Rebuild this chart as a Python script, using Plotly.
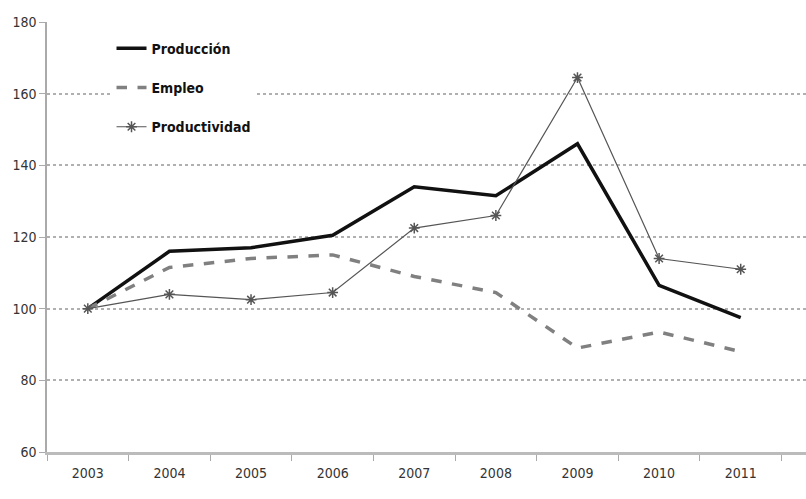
import plotly.graph_objects as go

years = ["2003", "2004", "2005", "2006", "2007", "2008", "2009", "2010", "2011"]
produccion = [100, 116, 117, 120.5, 134, 131.5, 146, 106.5, 97.5]
empleo = [100, 111.5, 114, 115, 109, 104.5, 89, 93.5, 88]
productividad = [100, 104, 102.5, 104.5, 122.5, 126, 164.5, 114, 111]

fig = go.Figure()
fig.add_trace(go.Scatter(x=years, y=produccion, name="Producción", mode="lines", legendgroup="a",
                         line=dict(color="#111111", width=3.5)))
fig.add_trace(go.Scatter(x=years, y=empleo, name="Empleo", mode="lines", legendgroup="b",
                         line=dict(color="#808080", width=3.5, dash="dash")))
fig.add_trace(go.Scatter(x=years, y=productividad, name="Productividad", mode="lines+markers",
                         legendgroup="c",
                         line=dict(color="#555555", width=1.2),
                         marker=dict(symbol="asterisk-open", size=9,
                                     line=dict(color="#333333", width=1.5))))

fig.update_layout(
    width=806, height=499,
    margin=dict(l=47, r=0, t=22, b=47),
    paper_bgcolor="white", plot_bgcolor="white",
    font=dict(family="DejaVu Sans Condensed, Liberation Sans Narrow, Arial Narrow, sans-serif",
              color="#333333", size=14),
    showlegend=True,
    legend=dict(x=0.085, y=0.975, xanchor="left", yanchor="top",
                bgcolor="white", borderwidth=0,
                font=dict(family="DejaVu Sans Condensed, Liberation Sans Narrow, sans-serif",
                          size=14, color="#111111", weight="bold"),
                tracegroupgap=18),
)
fig.update_xaxes(type="category", range=[-0.5, 8.8], showgrid=False,
                 showline=True, linecolor="#bbbbbb", linewidth=3,
                 ticks="outside", tickson="boundaries", ticklen=6, tickcolor="#aaaaaa",
                 ticklabelstandoff=6,
                 tickfont=dict(size=14, color="#333333"))
fig.update_yaxes(range=[60, 180], dtick=20, showgrid=True, gridcolor="#b0b0b0", griddash="dot",
                 gridwidth=1.5,
                 showline=True, linecolor="#aaaaaa", linewidth=1.5,
                 ticks="outside", ticklen=6, tickcolor="#aaaaaa",
                 tickfont=dict(size=14, color="#333333"), zeroline=False)

fig.write_html("out.html")
